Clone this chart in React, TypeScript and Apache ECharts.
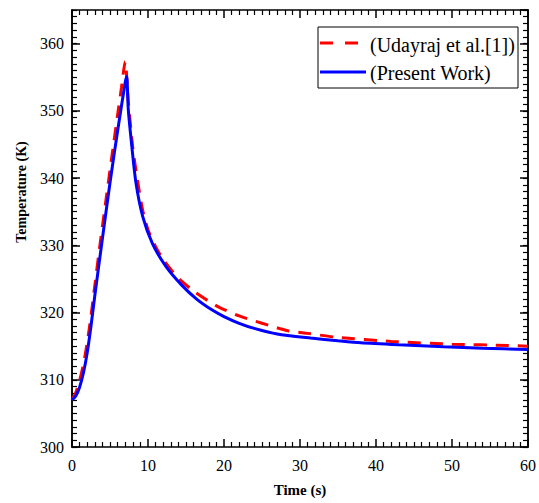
import React, { useEffect, useRef } from "react";
import * as echarts from "echarts";

const timeRed = [0, 0.5, 1, 1.5, 2, 2.5, 3, 3.5, 4, 4.5, 5, 5.5, 6, 6.5, 7, 7.4, 8, 8.6, 9.3, 10, 11, 12, 13, 14, 16, 19, 22, 25, 28.4, 31, 35, 42, 50, 57.5, 60];
const tempRed = [307, 308.1, 309.9, 312.3, 315.5, 319.5, 324, 328.5, 332.8, 337, 341.2, 345.3, 349.4, 353.4, 357.3, 351.5, 344.5, 339.8, 335.2, 332.3, 329.8, 327.9, 326.4, 325.1, 323.2, 321.0, 319.5, 318.4, 317.3, 316.9, 316.3, 315.7, 315.3, 315.1, 315];

const timeBlue = [0, 0.5, 1, 1.5, 2, 2.5, 3, 4, 5, 6, 7, 7.2, 7.4, 7.8, 8.4, 9.3, 10.6, 12.4, 14.5, 16.4, 18.4, 20, 22, 24.1, 27, 31.4, 35, 38, 43, 48.9, 54, 60];
const tempBlue = [307, 307.6, 308.9, 311, 314, 318, 322.5, 331, 339.3, 347, 354.2, 355.1, 350.3, 345.5, 339.4, 334.3, 330.2, 326.8, 324.0, 322.0, 320.4, 319.4, 318.4, 317.6, 316.8, 316.2, 315.8, 315.5, 315.2, 314.9, 314.7, 314.5];

const seriesNames = ["(Udayraj et al.[1])", "(Present Work)"];
const xTitle = "Time (s)";
const yTitle = "Temperature (K)";

const FONT = "'Liberation Serif', 'Times New Roman', serif";

export default function App() {
  const ref = useRef<HTMLDivElement>(null);
  useEffect(() => {
    if (!ref.current) return;
    const chart = echarts.init(ref.current, undefined, { renderer: "svg" });
    const axisLine = { show: true, lineStyle: { color: "#000", width: 1.5 } };
    const majorTick = { show: true, inside: true, length: 8, lineStyle: { color: "#000", width: 1.5 } };
    const minorTickShort = { show: true, inside: true, length: 5, lineStyle: { color: "#000", width: 1.2 } };
    const xBase = {
      type: "value",
      min: 0,
      max: 60,
      interval: 10,
      axisLine,
      axisTick: majorTick,
      minorTick: { show: true, splitNumber: 10, length: 5, lineStyle: { color: "#000", width: 1.2 } },
      splitLine: { show: false },
      minorSplitLine: { show: false },
    };
    const red = timeRed.map((t, i) => [t, tempRed[i]]);
    const blue = timeBlue.map((t, i) => [t, tempBlue[i]]);
    chart.setOption({
      animation: false,
      backgroundColor: "#fff",
      grid: { left: 72, right: 8, top: 10, bottom: 56, containLabel: false },
      xAxis: [
        {
          ...xBase,
          position: "bottom",
          axisLabel: { show: true, color: "#000", fontSize: 16, fontFamily: FONT, margin: 10 },
          name: xTitle,
          nameLocation: "middle",
          nameGap: 35,
          nameTextStyle: { color: "#000", fontSize: 15, fontWeight: "bold", fontFamily: FONT },
        },
        {
          ...xBase,
          position: "top",
          axisLabel: { show: false },
        },
      ],
      yAxis: [
        {
          type: "value",
          min: 300,
          max: 365,
          interval: 1,
          position: "left",
          axisLine,
          axisTick: minorTickShort,
          axisLabel: { show: false },
          splitLine: { show: false },
        },
        {
          type: "value",
          min: 300,
          max: 365,
          interval: 10,
          position: "left",
          axisLine,
          axisTick: majorTick,
          axisLabel: { show: true, showMaxLabel: false, color: "#000", fontSize: 16, fontFamily: FONT, margin: 8 },
          splitLine: { show: false },
        },
        {
          type: "value",
          min: 300,
          max: 365,
          interval: 1,
          position: "right",
          axisLine,
          axisTick: minorTickShort,
          axisLabel: { show: false },
          splitLine: { show: false },
        },
        {
          type: "value",
          min: 300,
          max: 365,
          interval: 10,
          position: "right",
          axisLine,
          axisTick: majorTick,
          axisLabel: { show: false },
          splitLine: { show: false },
        },
      ],
      series: [
        {
          name: seriesNames[0],
          type: "line",
          data: red,
          xAxisIndex: 0,
          yAxisIndex: 0,
          symbol: "none",
          smooth: 0.25,
          lineStyle: { color: "#ff0000", width: 3, type: [13, 9] },
          z: 3,
        },
        {
          name: seriesNames[1],
          type: "line",
          data: blue,
          xAxisIndex: 0,
          yAxisIndex: 0,
          symbol: "none",
          smooth: 0.25,
          lineStyle: { color: "#0000ff", width: 3 },
          z: 4,
        },
      ],
      graphic: [
        {
          type: "text",
          x: 21,
          y: 192,
          rotation: Math.PI / 2,
          style: {
            text: yTitle,
            font: `bold 14px ${FONT}`,
            fill: "#000",
            align: "center",
            verticalAlign: "middle",
          },
        },
        {
          type: "rect",
          shape: { x: 318, y: 27, width: 200, height: 61 },
          style: { fill: "#fff", stroke: "#000", lineWidth: 1 },
          z: 10,
        },
        {
          type: "line",
          shape: { x1: 320, y1: 43, x2: 360, y2: 43 },
          style: { stroke: "#ff0000", lineWidth: 3, lineDash: [13, 12] },
          z: 11,
        },
        {
          type: "line",
          shape: { x1: 320, y1: 72, x2: 366, y2: 72 },
          style: { stroke: "#0000ff", lineWidth: 3 },
          z: 11,
        },
        {
          type: "text",
          x: 370,
          y: 45,
          style: { text: seriesNames[0], font: `20px ${FONT}`, fill: "#000", verticalAlign: "middle" },
          z: 11,
        },
        {
          type: "text",
          x: 370,
          y: 73,
          style: { text: seriesNames[1], font: `20px ${FONT}`, fill: "#000", verticalAlign: "middle" },
          z: 11,
        },
      ],
    });
    return () => chart.dispose();
  }, []);
  return <div ref={ref} style={{ position: "fixed", left: 0, top: 0, width: 539, height: 503 }} />;
}
